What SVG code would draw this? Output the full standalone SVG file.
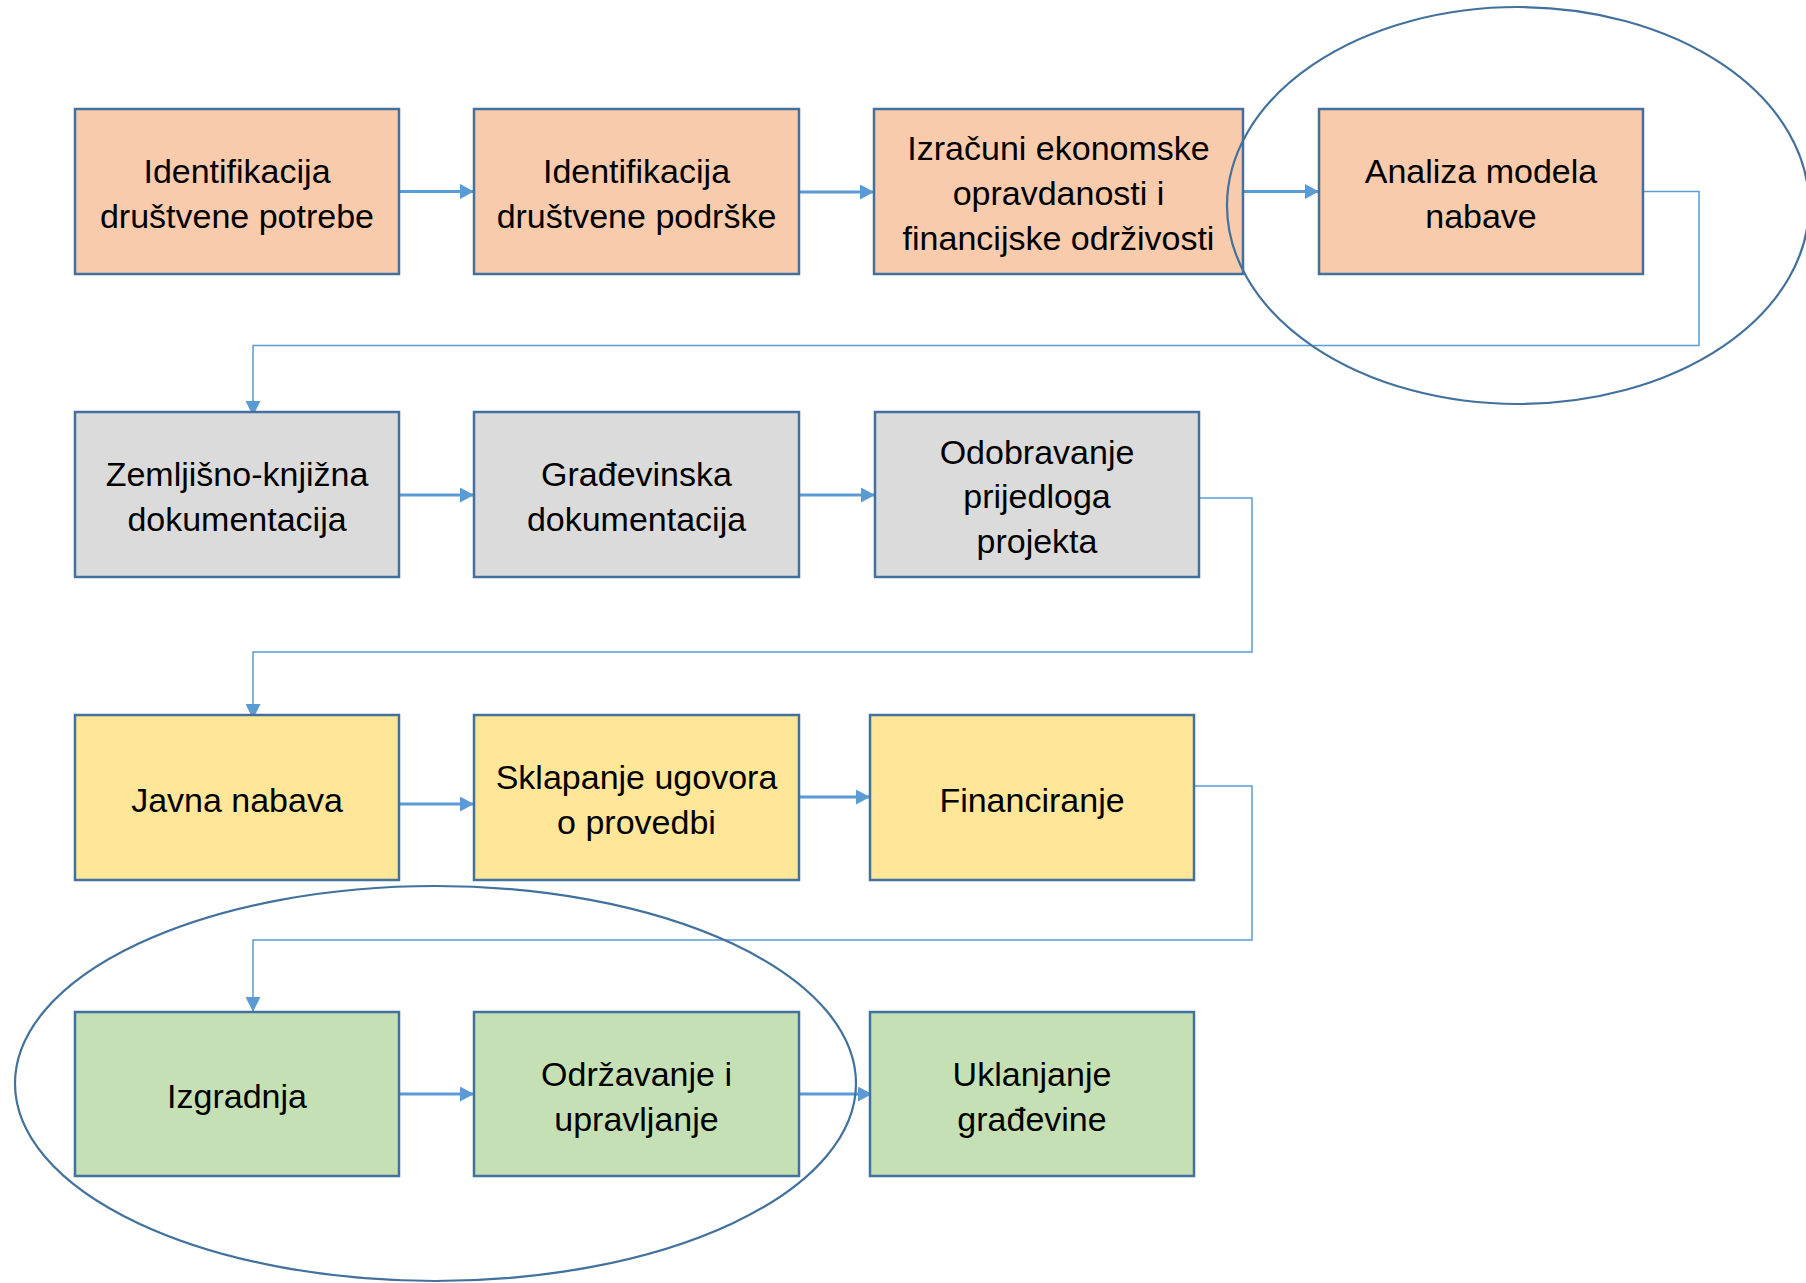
<svg xmlns="http://www.w3.org/2000/svg" width="1806" height="1283" viewBox="0 0 1806 1283">
<style>
.box{stroke:#41719C;stroke-width:2.5}
.o{fill:#F8CBAD}.g{fill:#DBDBDB}.y{fill:#FFE699}.gr{fill:#C5E0B4}
text{font-family:"Liberation Sans",Arial,sans-serif;font-size:34px;fill:#000;text-anchor:middle}
.a{stroke:#5B9BD5;stroke-width:3;fill:none;marker-end:url(#ah)}
.e{stroke:#5B9BD5;stroke-width:1.5;fill:none;marker-end:url(#ah2)}
.ell{fill:none;stroke:#41719C;stroke-width:2.2}
</style>
<defs>
<marker id="ah" markerWidth="5" markerHeight="5" refX="4.7" refY="2.5" orient="auto" markerUnits="strokeWidth"><path d="M0,0 L4.7,2.5 L0,5 z" fill="#5B9BD5"/></marker>
<marker id="ah2" markerWidth="10" markerHeight="10" refX="10" refY="5" orient="auto" markerUnits="strokeWidth"><path d="M0,0 L10,5 L0,10 z" fill="#5B9BD5"/></marker>
</defs>
<g id="connectors">
<line class="a" x1="399" y1="191.5" x2="474" y2="191.5"/>
<line class="a" x1="799" y1="192" x2="874" y2="192"/>
<line class="a" x1="1243" y1="191.5" x2="1319" y2="191.5"/>
<polyline class="e" points="1643,191.5 1699,191.5 1699,345.5 253,345.5 253,416"/>
<line class="a" x1="399" y1="495" x2="474" y2="495"/>
<line class="a" x1="799" y1="495" x2="875" y2="495"/>
<polyline class="e" points="1197,498 1252,498 1252,652 253,652 253,719"/>
<line class="a" x1="399" y1="804" x2="474" y2="804"/>
<line class="a" x1="794" y1="797" x2="870" y2="797"/>
<polyline class="e" points="1194,786 1252,786 1252,940 253,940 253,1012"/>
<line class="a" x1="399" y1="1094" x2="474" y2="1094"/>
<line class="a" x1="799" y1="1094" x2="872" y2="1094"/>
</g>
<g id="n1"><rect class="box o" x="75" y="109" width="324" height="165"/><text x="237" y="182.5">Identifikacija</text><text x="237" y="227.5">društvene potrebe</text></g>
<g id="n2"><rect class="box o" x="474" y="109" width="325" height="165"/><text x="636.5" y="182.5">Identifikacija</text><text x="636.5" y="227.5">društvene podrške</text></g>
<g id="n3"><rect class="box o" x="874" y="109" width="369" height="165"/><text x="1058.5" y="159.5">Izračuni ekonomske</text><text x="1058.5" y="204.5">opravdanosti i</text><text x="1058.5" y="249.5">financijske održivosti</text></g>
<g id="n4"><rect class="box o" x="1319" y="109" width="324" height="165"/><text x="1481" y="182.5">Analiza modela</text><text x="1481" y="227.5">nabave</text></g>
<g id="n5"><rect class="box g" x="75" y="412" width="324" height="165"/><text x="237" y="485.5">Zemljišno-knjižna</text><text x="237" y="530.5">dokumentacija</text></g>
<g id="n6"><rect class="box g" x="474" y="412" width="325" height="165"/><text x="636.5" y="485.5">Građevinska</text><text x="636.5" y="530.5">dokumentacija</text></g>
<g id="n7"><rect class="box g" x="875" y="412" width="324" height="165"/><text x="1037" y="463.5">Odobravanje</text><text x="1037" y="508">prijedloga</text><text x="1037" y="552.5">projekta</text></g>
<g id="n8"><rect class="box y" x="75" y="715" width="324" height="165"/><text x="237" y="811.5">Javna nabava</text></g>
<g id="n9"><rect class="box y" x="474" y="715" width="325" height="165"/><text x="636.5" y="788.5">Sklapanje ugovora</text><text x="636.5" y="833.5">o provedbi</text></g>
<g id="n10"><rect class="box y" x="870" y="715" width="324" height="165"/><text x="1032" y="811.5">Financiranje</text></g>
<g id="n11"><rect class="box gr" x="75" y="1012" width="324" height="164"/><text x="237" y="1107.5">Izgradnja</text></g>
<g id="n12"><rect class="box gr" x="474" y="1012" width="325" height="164"/><text x="636.5" y="1085.5">Održavanje i</text><text x="636.5" y="1130.5">upravljanje</text></g>
<g id="n13"><rect class="box gr" x="870" y="1012" width="324" height="164"/><text x="1032" y="1085.5">Uklanjanje</text><text x="1032" y="1130.5">građevine</text></g>
<ellipse class="ell" cx="1518" cy="205.5" rx="291" ry="198.5"/>
<ellipse class="ell" cx="435.5" cy="1083.5" rx="420.5" ry="197.5"/>
</svg>
